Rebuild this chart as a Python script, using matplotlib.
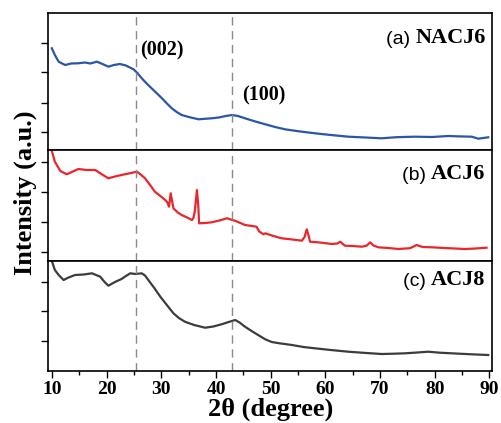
import matplotlib
matplotlib.use("Agg")
import matplotlib.pyplot as plt
from matplotlib.ticker import MultipleLocator

# ---- data (2theta in degree, intensity in arbitrary units) ----
a_x = [9.95, 10.5, 11.2, 12.0, 12.4, 13.5, 14.8, 16.0, 17.0, 18.2, 19.2, 20.3, 21.3, 22.4,
       23.5, 24.9, 25.6, 26.4, 27.3, 28.2, 29.1, 30.1, 31.0, 31.9, 32.8, 33.7, 35.0, 36.8,
       38.0, 39.2, 40.5, 41.8, 42.9, 44.0, 45.3, 47.0, 49.0, 50.8, 52.6, 55.0, 58.1, 61.0,
       64.2, 67.0, 70.3, 73.0, 76.4, 79.5, 82.5, 84.5, 86.8, 88.0, 89.8]
a_y = [101.7, 95.0, 88.3, 86.0, 85.0, 86.5, 86.7, 87.5, 86.5, 88.3, 86.0, 83.3, 85.0, 86.0,
       84.5, 80.7, 77.0, 71.7, 66.5, 61.7, 57.0, 51.7, 46.5, 41.7, 38.0, 35.0, 33.0, 30.7,
       31.2, 31.7, 32.5, 34.0, 35.0, 34.0, 31.7, 28.8, 25.7, 23.0, 20.7, 18.8, 16.7, 15.0,
       13.3, 12.6, 11.7, 12.8, 13.3, 13.0, 14.0, 13.6, 13.3, 11.3, 12.7]

b_x = [9.95, 10.5, 11.5, 12.7, 13.8, 14.8, 16.3, 17.9, 19.0, 20.3, 21.5, 22.7, 24.0, 25.5,
       26.2, 27.0, 28.0, 28.8, 29.8, 30.7, 31.1, 31.4, 31.7, 31.95, 32.2, 33.0, 33.7, 34.7,
       35.6, 35.85, 36.1, 36.5, 36.75, 36.9, 38.0, 39.2, 40.6, 42.0, 43.6, 45.3, 46.6, 47.4,
       47.9, 48.7, 49.0, 50.5, 52.0, 54.0, 55.7, 56.2, 56.6, 57.0, 57.2, 59.0, 61.2, 62.2,
       62.7, 63.2, 63.6, 65.0, 66.7, 67.6, 68.2, 68.8, 69.7, 71.5, 73.4, 75.5, 76.7, 77.8,
       79.5, 82.5, 85.6, 87.5, 89.5]
b_y = [110.0, 99.3, 90.0, 86.7, 89.5, 92.0, 91.0, 91.0, 87.0, 82.7, 84.5, 86.0, 87.5, 89.3,
       86.5, 82.7, 75.5, 69.3, 65.0, 61.0, 58.5, 54.3, 67.7, 60.0, 52.7, 48.5, 46.0, 43.5,
       41.0, 43.0, 49.3, 71.0, 55.0, 37.7, 38.0, 38.7, 40.5, 42.7, 40.0, 36.0, 35.0, 34.3,
       29.5, 26.7, 27.7, 25.0, 22.7, 21.5, 20.3, 24.0, 31.7, 24.0, 19.3, 18.5, 17.0, 17.5,
       19.3, 17.0, 15.3, 15.0, 14.3, 15.5, 18.7, 15.5, 13.7, 13.0, 12.0, 12.8, 16.0, 14.0,
       13.7, 12.8, 12.0, 12.5, 13.3]

c_x = [9.95, 10.5, 11.2, 12.1, 13.0, 14.2, 15.8, 17.3, 18.8, 19.6, 20.3, 21.5, 22.7, 23.5,
       24.3, 25.3, 26.4, 27.0, 27.6, 28.7, 29.8, 31.0, 32.2, 33.2, 34.3, 36.0, 38.0, 39.5,
       41.0, 42.3, 43.5, 44.3, 45.3, 46.5, 47.7, 49.0, 50.2, 51.5, 53.9, 56.0, 58.1, 61.0,
       64.2, 67.0, 70.3, 72.5, 74.6, 76.8, 78.8, 81.0, 83.1, 86.8, 89.8]
c_y = [110.0, 101.0, 96.0, 91.0, 93.5, 96.0, 96.5, 97.7, 94.3, 89.0, 85.3, 89.0, 92.0, 95.0,
       97.7, 97.0, 97.7, 95.5, 91.0, 83.0, 74.3, 66.0, 57.7, 53.0, 49.3, 46.0, 43.3, 44.5,
       46.7, 49.0, 51.0, 48.5, 44.3, 40.0, 36.0, 31.7, 29.0, 27.8, 26.0, 24.0, 22.7, 21.0,
       19.3, 18.2, 17.0, 17.3, 17.7, 18.5, 19.3, 18.3, 17.7, 16.7, 16.0]

series_x = [a_x, b_x, c_x]
series_y = [a_y, b_y, c_y]
sample_tags = ["(a) ", "(b) ", "(c) "]
sample_names = ["NACJ6", "ACJ6", "ACJ8"]
colors = ["#2a56a5", "#e8262c", "#3c3c3c"]
ylims = [(0, 137), (0, 111), (0, 110)]
yticks = [[18, 47, 78, 107], [9, 39, 69, 99], [30, 60, 89]]
ref_lines = [25.3, 43.0]
peak_labels = ["(002)", "(100)"]
xticks = [10, 20, 30, 40, 50, 60, 70, 80, 90]

serif = "Liberation Serif"
sans = "Liberation Sans"

fig = plt.figure(figsize=(5.01, 4.23), dpi=100)
gs = fig.add_gridspec(3, 1, height_ratios=[137, 111, 110], hspace=0,
                      left=0.0964, right=0.9826, top=0.9693, bottom=0.1229)
axes = [fig.add_subplot(gs[i]) for i in range(3)]

label_y = [0.78, 0.735, 0.78]
for i, ax in enumerate(axes):
    ax.plot(series_x[i], series_y[i], color=colors[i], lw=1.6)
    for xv in ref_lines:
        ax.axvline(xv, color="#8a8a8a", lw=1.0, dashes=(6, 4))
    ax.set_xlim(9.3, 90.55)
    ax.set_ylim(*ylims[i])
    ax.set_yticks(yticks[i])
    ax.set_yticklabels([])
    ax.tick_params(axis="y", direction="out", length=5, width=1.0, left=True, right=False)
    for sp in ax.spines.values():
        sp.set_linewidth(1.2)
    if i < 2:
        ax.tick_params(axis="x", bottom=False, labelbottom=False)
    else:
        ax.set_xticks(xticks)
        ax.xaxis.set_minor_locator(MultipleLocator(5))
        ax.tick_params(axis="x", which="major", direction="out", length=5, width=1.0, pad=2)
        ax.tick_params(axis="x", which="minor", direction="out", length=3, width=1.0)
        for lab in ax.get_xticklabels():
            lab.set_fontfamily(serif)
            lab.set_fontweight("bold")
            lab.set_fontsize(14)
    t = ax.text(0.985, label_y[i], sample_names[i],
                transform=ax.transAxes, ha="right", va="baseline",
                fontsize=16, fontweight="bold", family=serif)
    ax.annotate(sample_tags[i], xy=(0, 0), xycoords=t, ha="right", va="bottom",
                fontsize=14, family=sans)

axes[0].text(26.1, 95, peak_labels[0], fontsize=14.5, fontweight="bold", family=serif,
             ha="left", va="baseline")
axes[0].text(44.7, 50, peak_labels[1], fontsize=14.5, fontweight="bold", family=serif,
             ha="left", va="baseline")

axes[2].set_xlabel("2θ (degree)", fontsize=19, fontweight="bold", family=serif, labelpad=0)
fig.text(0.050, 0.545, "Intensity (a.u.)", rotation=90, ha="center", va="center",
         fontsize=19, fontweight="bold", family=serif)

fig.savefig("out.png", dpi=100)
